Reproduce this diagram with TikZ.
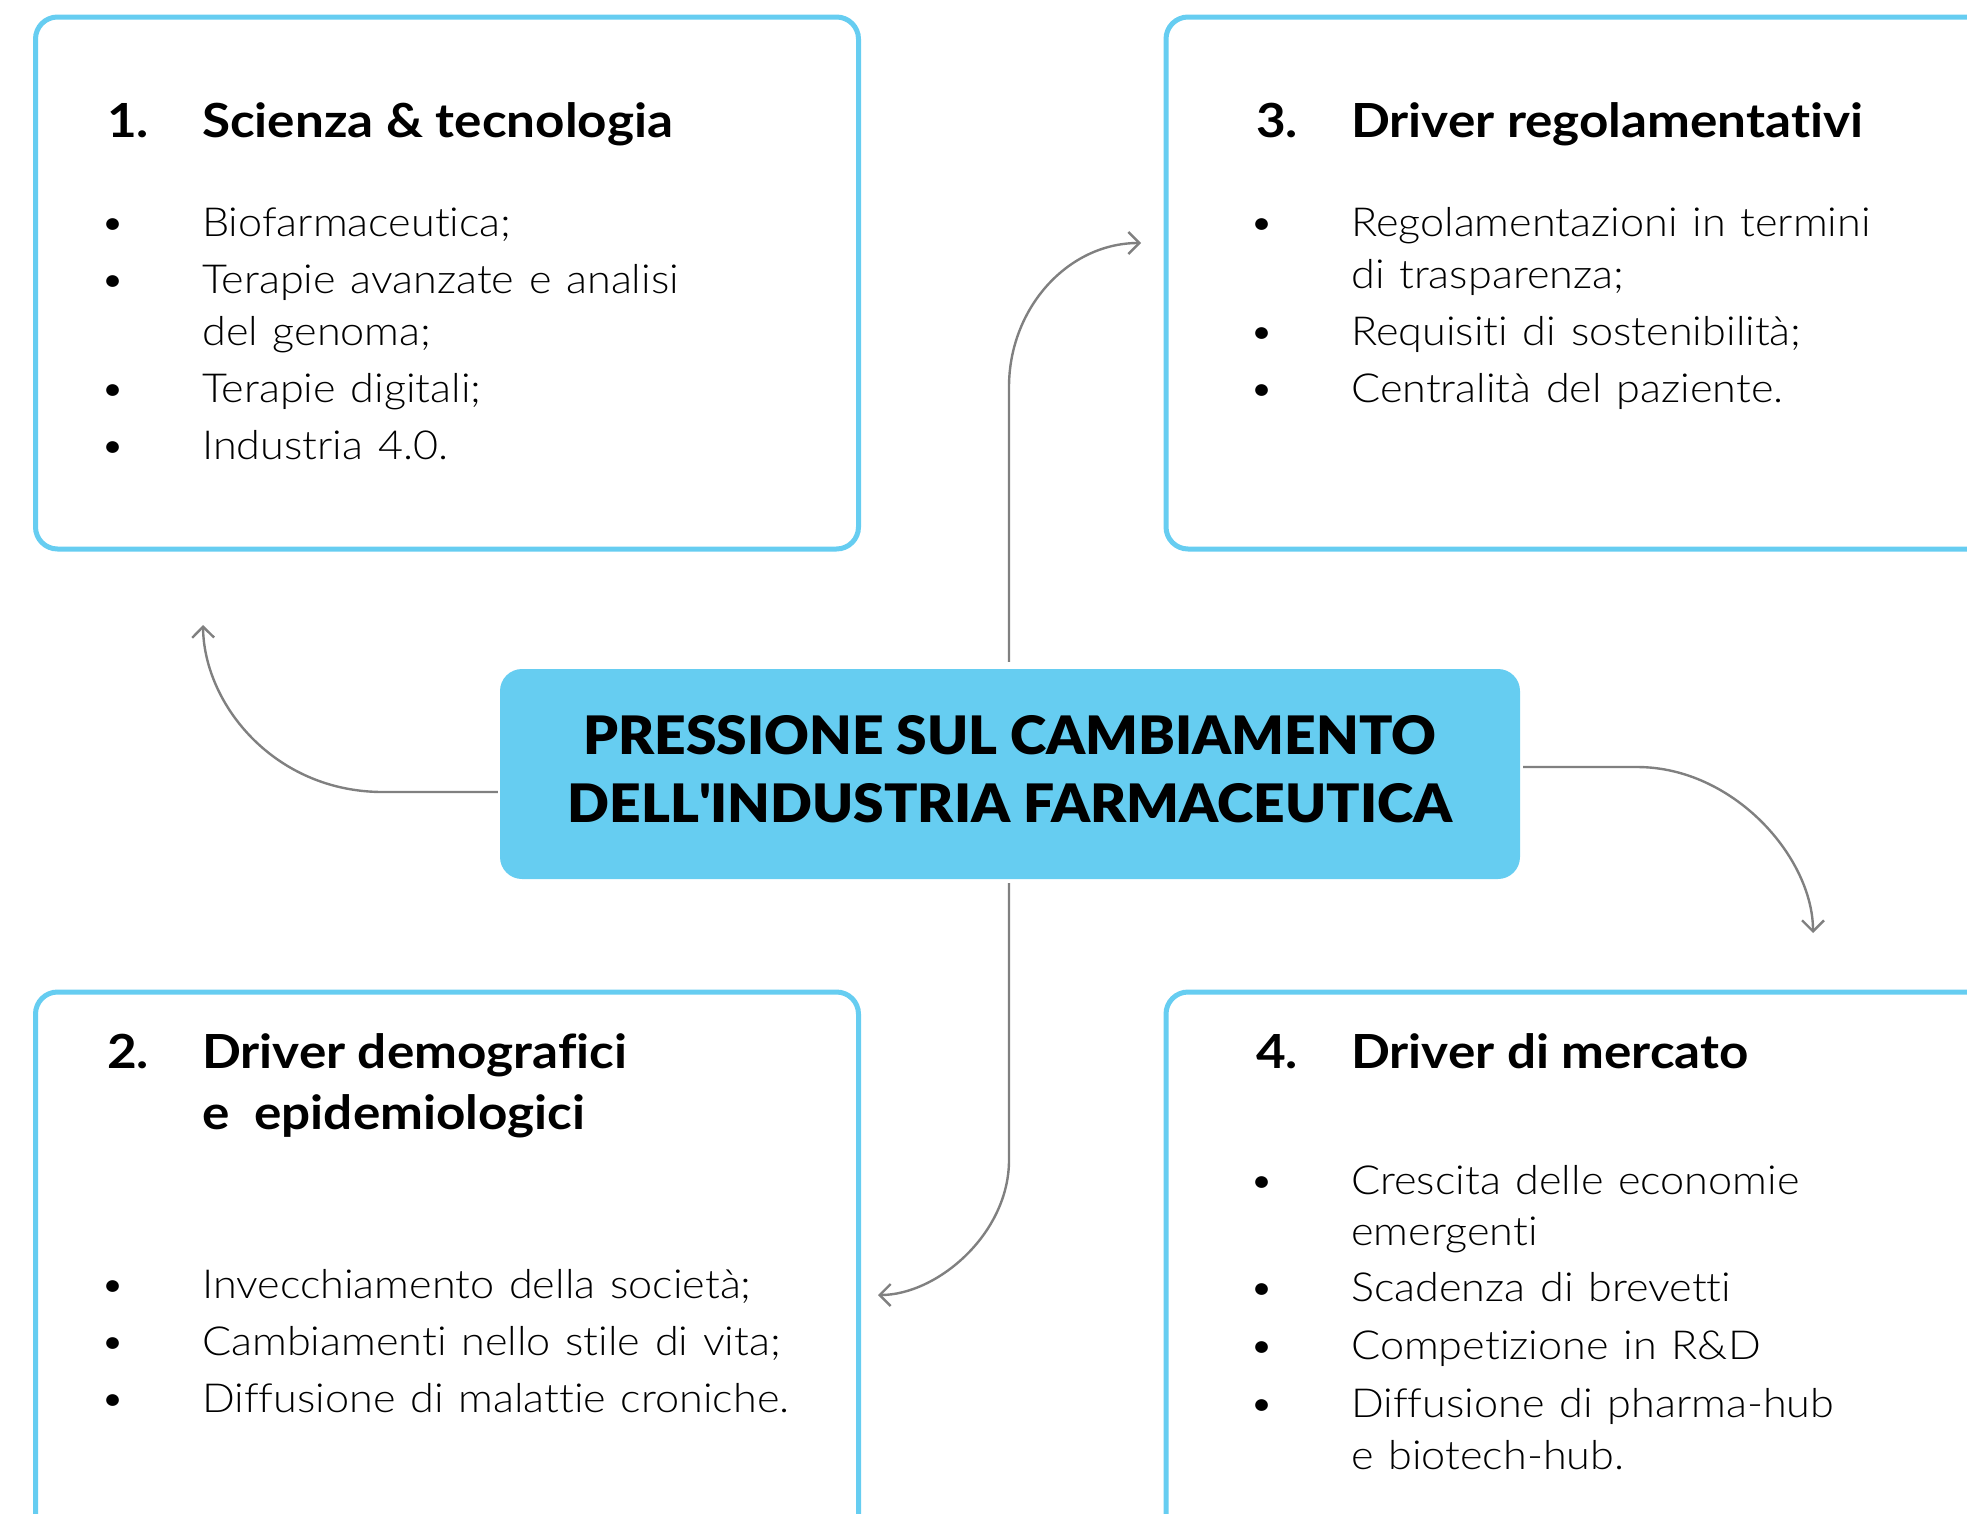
\documentclass[tikz,border=0pt]{standalone}
\usepackage{fontspec}
\usetikzlibrary{arrows.meta}
\newfontfamily\lightf{Lato Light}[Ligatures={TeX,NoCommon},FakeStretch=1.08,WordSpace=1.25]
\newfontfamily\boldf{Lato Bold}[Ligatures={TeX,NoCommon},FakeStretch=1.09]
\newfontfamily\blackf{Lato Black}[Ligatures={TeX,NoCommon},FakeStretch=1.04]
\definecolor{skyb}{RGB}{102,205,241}
\definecolor{conng}{RGB}{128,128,128}
\begin{document}
\begin{tikzpicture}[x=1pt,y=-1pt,
  panel/.style={draw=skyb, line width=5pt, fill=white, rounded corners=22pt, inner sep=0pt, outer sep=0pt},
  core/.style={fill=skyb, rounded corners=22pt, inner sep=0pt, minimum width=1020pt, minimum height=210pt},
  conn/.style={draw=conng, line width=2.4pt, -{Straight Barb[length=11pt,width=22pt]}},
  head/.style={font=\boldf\fontsize{47}{56}\selectfont, inner sep=0pt, anchor=base west},
  itemt/.style={font=\lightf\fontsize{40}{48}\selectfont, inner sep=0pt, anchor=base west},
  bul/.style={font=\lightf\fontsize{40}{48}\selectfont, inner sep=0pt, anchor=base},
  ttl/.style={font=\blackf\fontsize{53}{64}\selectfont, inner sep=0pt, anchor=base}]
\useasboundingbox (0,0) rectangle (1967,1513);
\clip (0,0) rectangle (1967,1513);
% panels
\node[panel, minimum width=823pt, minimum height=532pt] (p1) at (447,283) {};
\node[panel, minimum width=884pt, minimum height=532pt] (p3) at (1608,283) {};
\node[panel, minimum width=823pt, minimum height=608pt] (p2) at (447,1296) {};
\node[panel, minimum width=884pt, minimum height=608pt] (p4) at (1608,1296) {};
% box 1
\node[head] (n1) at (107,137) {1.};
\node[head] (h1) at (202,137) {Scienza \& tecnologia};
\node[bul] (d1a) at (113,236) {•};
\node[itemt] (i1a) at (202,236) {Biofarmaceutica;};
\node[bul] (d1b) at (113,293) {•};
\node[itemt] (i1b) at (202,293) {Terapie avanzate e analisi};
\node[itemt] (i1c) at (202,345) {del genoma;};
\node[bul] (d1d) at (113,402) {•};
\node[itemt] (i1d) at (202,402) {Terapie digitali;};
\node[bul] (d1e) at (113,459) {•};
\node[itemt] (i1e) at (202,459) {Industria 4.0.};
% box 3
\node[head] (n3) at (1256,137) {3.};
\node[head] (h3) at (1351,137) {Driver regolamentativi};
\node[bul] (d3a) at (1262,236) {•};
\node[itemt] (i3a) at (1351,236) {Regolamentazioni in termini};
\node[itemt] (i3b) at (1351,288) {di trasparenza;};
\node[bul] (d3c) at (1262,345) {•};
\node[itemt] (i3c) at (1351,345) {Requisiti di sostenibilità;};
\node[bul] (d3d) at (1262,402) {•};
\node[itemt] (i3d) at (1351,402) {Centralità del paziente.};
% box 2
\node[head] (n2) at (107,1068) {2.};
\node[head] (h2a) at (202,1068) {Driver demografici};
\node[head] (h2b) at (202,1129) {e\ \ epidemiologici};
\node[bul] (d2a) at (113,1298) {•};
\node[itemt] (i2a) at (202,1298) {Invecchiamento della società;};
\node[bul] (d2b) at (113,1355) {•};
\node[itemt] (i2b) at (202,1355) {Cambiamenti nello stile di vita;};
\node[bul] (d2c) at (113,1412) {•};
\node[itemt] (i2c) at (202,1412) {Diffusione di malattie croniche.};
% box 4
\node[head] (n4) at (1256,1068) {4.};
\node[head] (h4) at (1351,1068) {Driver di mercato};
\node[bul] (d4a) at (1262,1194) {•};
\node[itemt] (i4a) at (1351,1194) {Crescita delle economie};
\node[itemt] (i4b) at (1351,1245) {emergenti};
\node[bul] (d4c) at (1262,1301) {•};
\node[itemt] (i4c) at (1351,1301) {Scadenza di brevetti};
\node[bul] (d4d) at (1262,1359) {•};
\node[itemt] (i4d) at (1351,1359) {Competizione in R\&D};
\node[bul] (d4e) at (1262,1417) {•};
\node[itemt] (i4e) at (1351,1417) {Diffusione di pharma-hub};
\node[itemt] (i4f) at (1351,1469) {e biotech-hub.};
% centre
\node[core] (c) at (1010,774) {};
\node[ttl] (t1) at (1010,754) {PRESSIONE SUL CAMBIAMENTO};
\node[ttl] (t2) at (1010,822) {DELL\textquotesingle INDUSTRIA FARMACEUTICA};
% connector ends
\coordinate (k1) at (203,625);
\coordinate (k3) at (1141,243);
\coordinate (k4) at (1813,933);
\coordinate (k2) at (878,1295);
\draw[conn] ([shift={(-1,-7)}]c.north) -- (1009,387) .. controls (1009,308) and (1068,243) .. (k3);
\draw[conn] ([shift={(-2,18)}]c.west) -- (383,792) .. controls (275,792) and (204,705) .. (k1);
\draw[conn] ([shift={(3,-7)}]c.east) -- (1637,767) .. controls (1734,767) and (1813,858) .. (k4);
\draw[conn] ([shift={(-1,4)}]c.south) -- (1009,1160) .. controls (1009,1234) and (937,1295) .. (k2);
\end{tikzpicture}
\end{document}
